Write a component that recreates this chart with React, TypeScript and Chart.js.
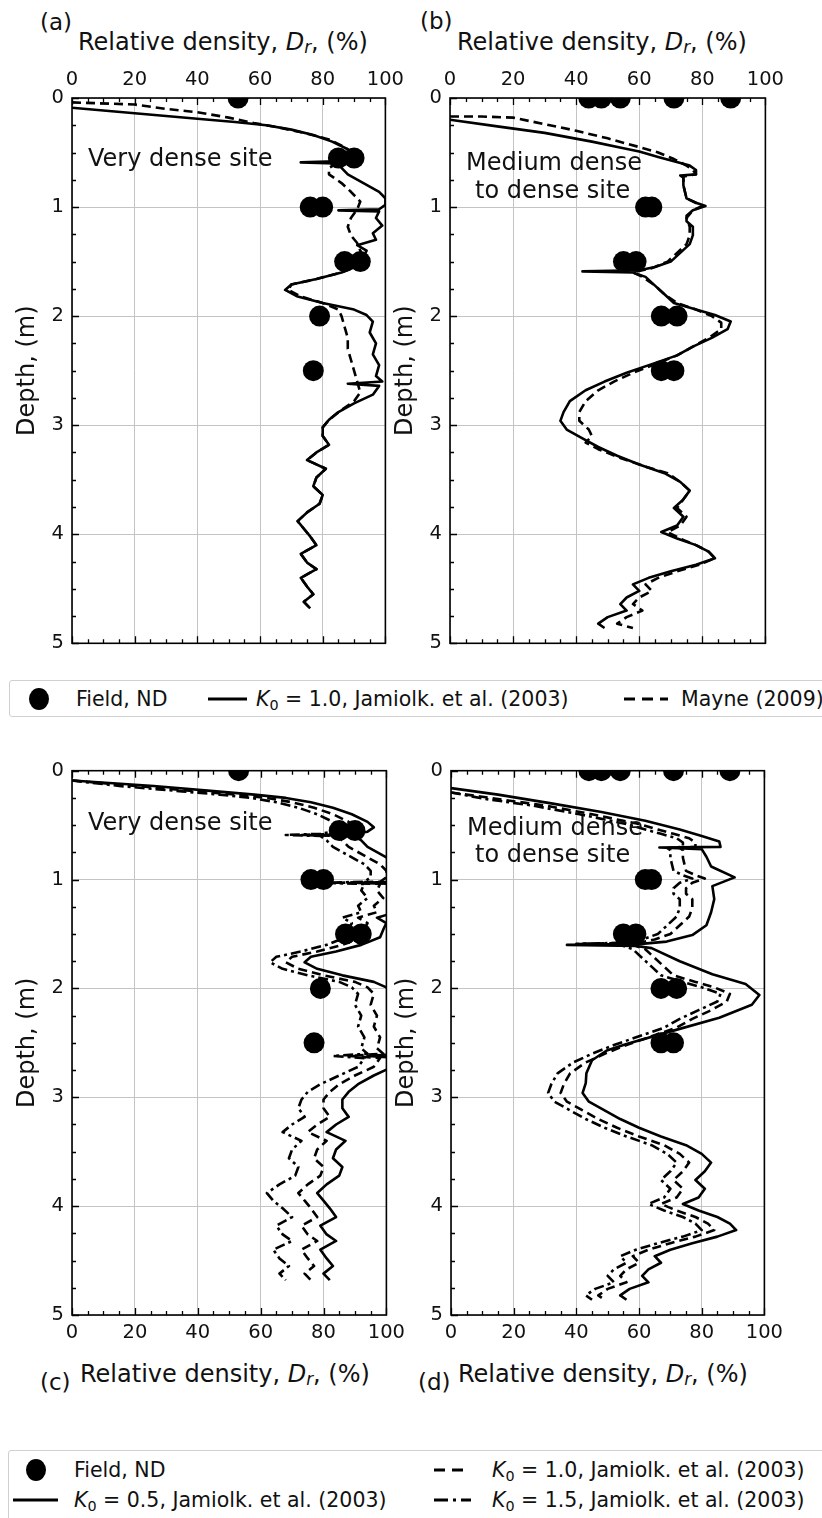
import React, { useEffect, useRef } from "react";
import { Chart, registerables } from "chart.js";
Chart.register(...registerables);

// ---------- tick labels ----------
const xTickValues = [0, 20, 40, 60, 80, 100];
const yTickValues = [0, 1, 2, 3, 4, 5];

// ---------- field data (ND) ----------
const fieldDenseDepth = [0, 0.55, 0.55, 1.0, 1.0, 1.5, 1.5, 2.0, 2.5];
const fieldDenseDr = [53, 85, 90, 76, 80, 87, 92, 79, 77];
const fieldMedDepth = [0, 0, 0, 0, 0, 1.0, 1.0, 1.5, 1.5, 2.0, 2.0, 2.5, 2.5];
const fieldMedDr = [44, 48, 54, 71, 89, 62, 64, 55, 59, 67, 72, 67, 71];

// ---------- very dense site ----------
const depthDense = [0.09,0.14,0.19,0.22,0.25, 0.29,0.34,0.40,0.47,0.52, 0.56,0.58,0.59,0.60,0.64, 0.70,0.78,0.86,0.92,0.98, 1.02,1.03,1.04,1.10,1.17, 1.24,1.30,1.35,1.40,1.46, 1.53,1.60,1.66,1.71,1.76, 1.82,1.88,1.94,1.99,2.05, 2.15,2.25,2.35,2.45,2.55, 2.60,2.62,2.64,2.72,2.80, 2.88,2.95,3.02,3.10,3.18, 3.25,3.32,3.40,3.48,3.56, 3.64,3.72,3.80,3.88,3.95, 4.02,4.10,4.18,4.26,4.32, 4.40,4.48,4.55,4.62,4.68];
const drDenseK10 = [0,20,40,52,62, 70,77,83,88,90, 88,84,73,84,86, 88,93,98,100,100, 98,85,98,97,99, 96,97,91,94,93, 92,86,78,70,68, 72,80,90,94,96, 95,97,96,98,97, 99,88,98,96,90, 85,82,80,80,82, 78,75,81,78,77, 80,79,75,72,74, 76,78,73,75,78, 73,75,77,74,76];
const drDenseK05 = [0,26,46,58,68, 76,83,89,94,96, 94,90,79,90,92, 94,99,104,106,106, 104,91,104,103,105, 102,103,97,100,99, 98,92,84,76,74, 78,86,96,100,102, 101,103,102,104,103, 105,94,104,102,96, 91,88,86,86,88, 84,81,87,84,83, 86,85,81,78,80, 82,84,79,81,84, 79,81,83,80,82];
const drDenseK15 = [0,15,35,47,57, 65,72,78,83,85, 83,79,68,79,81, 83,88,93,95,95, 93,80,93,92,94, 91,92,86,89,88, 87,81,73,65,63, 67,75,85,89,91, 90,92,91,93,92, 94,83,93,91,85, 79,75,73,72,74, 70,67,73,70,69, 72,71,66,62,64, 67,70,65,67,70, 64,66,69,66,68];
const depthDenseMayne = [0.04,0.06,0.10,0.13,0.18, 0.23,0.27,0.32,0.38,0.45, 0.52,0.58,0.64,0.70,0.78, 0.86,0.95,1.02,1.10,1.18, 1.26,1.33,1.40,1.46,1.53, 1.60,1.66,1.71,1.76,1.82, 1.88,1.94,2.00,2.10,2.20, 2.30,2.40,2.50,2.60,2.70, 2.78,2.86,2.95,3.02,3.10, 3.18,3.25,3.32,3.40,3.48, 3.56,3.64,3.72,3.80,3.88, 3.95,4.02,4.10,4.18,4.26, 4.32,4.40,4.48,4.55,4.62, 4.68];
const drDenseMayne = [0,20,30,40,50, 58,66,74,82,87, 90,86,82,82,86, 89,92,91,89,88, 89,91,92,93,92, 86,78,70,69,73, 80,85,86,87,88, 88,89,90,91,92, 90,86,82,80,80, 82,78,75,81,78, 77,80,79,75,72, 74,76,78,73,75, 78,73,75,77,74, 76];

// ---------- medium dense to dense site ----------
const depthMed = [0.20,0.26,0.32,0.40,0.46, 0.49,0.54,0.58,0.62,0.66, 0.70,0.71,0.73,0.80,0.92, 0.96,0.99,1.03,1.08,1.13, 1.18,1.26,1.34,1.42,1.50, 1.55,1.58,1.59,1.60,1.64, 1.72,1.80,1.88,1.94,1.99, 2.05,2.12,2.20,2.28,2.36, 2.44,2.52,2.60,2.68,2.78, 2.88,2.96,3.04,3.12,3.20, 3.28,3.36,3.44,3.52,3.60, 3.68,3.76,3.84,3.92,3.98, 4.04,4.10,4.16,4.22,4.28, 4.34,4.40,4.46,4.52,4.58, 4.64,4.70,4.76,4.82,4.86];
const drMedK10 = [0,15,30,45,55, 60,66,71,76,78, 78,73,74,74,75, 78,81,77,75,75, 77,77,76,73,70, 65,60,42,58,62, 65,68,71,78,84, 89,88,83,77,72, 64,56,49,43,38, 36,35,37,42,47, 53,60,68,73,76, 74,71,74,72,67, 72,78,82,84,78, 70,63,58,60,56, 54,56,50,47,49];
const drMedK15 = [0,11,26,41,51, 56,62,67,72,74, 74,69,70,70,71, 74,77,73,71,71, 73,73,72,69,66, 61,56,40,54,58, 61,64,67,74,80, 86,85,79,73,68, 60,52,45,39,34, 32,31,33,38,43, 49,56,64,69,72, 70,67,70,68,63, 68,74,78,80,74, 66,59,54,56,52, 50,52,46,43,45];
const depthMedK05 = [0.16,0.22,0.30,0.38,0.46, 0.54,0.60,0.65,0.70,0.705, 0.72,0.79,0.88,0.98,1.06, 1.18,1.30,1.42,1.51,1.57, 1.595,1.60,1.61,1.63,1.75, 1.87,1.96,2.06,2.15,2.27, 2.39,2.51,2.57,2.66,2.78, 2.87,2.96,3.04,3.12,3.20, 3.28,3.36,3.44,3.52,3.60, 3.68,3.76,3.84,3.92,3.98, 4.04,4.10,4.16,4.22,4.28, 4.34,4.40,4.46,4.52,4.58, 4.64,4.70,4.76,4.82,4.86];
const drMedK05 = [0,15,32,48,62, 73,80,85.6,86,66.5, 80,81.5,83,90.5,83.4, 84,83,81.5,77,68.8, 59,37,59,64,73, 83.4,94,98.4,96,85.6, 70.7,56,49.7,45,43.2, 43,42,44,49,54, 60,67,75,80,83, 81,78,81,79,74, 79,85,89,91,85, 77,70,65,67,63, 61,63,57,54,56];
const depthMedMayne = [0.17,0.17,0.18,0.24,0.30, 0.37,0.45,0.50,0.56,0.62, 0.66,0.70,0.72,0.80,0.92, 0.99,1.03,1.10,1.18,1.26, 1.34,1.42,1.50,1.56,1.60, 1.64,1.72,1.80,1.88,1.94, 2.00,2.06,2.12,2.20,2.28, 2.36,2.44,2.52,2.60,2.68, 2.78,2.88,2.96,3.04,3.10, 3.16,3.22,3.30,3.38,3.44, 3.52,3.60,3.68,3.76,3.84, 3.92,3.98,4.04,4.10,4.16, 4.22,4.28,4.34,4.40,4.46, 4.52,4.58,4.64,4.70,4.76, 4.82,4.86];
const drMedMayne = [0,10,20,30,40, 50,60,66,71,75, 77,78,74,74,75, 80,77,75,76,76, 75,72,69,64,58, 61,65,68,72,78, 83,86,86,82,77, 72,65,58,52,47, 43,41,41,44,45, 43,47,54,62,69, 73,76,74,72,75, 73,69,73,78,82, 84,79,72,66,62, 64,60,58,61,56, 53,58];

const SOLID: number[] = [];
const DASHED = [9, 5];
const DASHDOT = [10, 4, 3, 4];

type Line = { depth: number[]; dr: number[]; dash: number[] };

const FONT = "'DejaVu Sans', sans-serif";

function zip(xs: number[], ys: number[]) {
  return xs.map((x, i) => ({ x, y: ys[i] }));
}

const framePlugin = {
  id: "frameTicks",
  afterDraw(chart: any) {
    const { ctx, chartArea } = chart;
    const { left, right, top, bottom } = chartArea;
    const xs = chart.scales.x;
    const ys = chart.scales.y;
    ctx.save();
    ctx.strokeStyle = "#000";
    ctx.lineWidth = 1.3;
    ctx.beginPath();
    for (let v = 0; v <= 100; v += 5) {
      const px = Math.round(xs.getPixelForValue(v)) + 0.5;
      const len = v % 20 === 0 ? 7 : 4;
      ctx.moveTo(px, top);
      ctx.lineTo(px, top + len);
      ctx.moveTo(px, bottom);
      ctx.lineTo(px, bottom - len);
    }
    for (let i = 0; i <= 20; i++) {
      const d = i * 0.25;
      const py = Math.round(ys.getPixelForValue(d)) + 0.5;
      const len = i % 4 === 0 ? 7 : 4;
      ctx.moveTo(left, py);
      ctx.lineTo(left + len, py);
    }
    ctx.stroke();
    ctx.lineWidth = 1.6;
    ctx.strokeRect(left, top, right - left, bottom - top);
    ctx.restore();
  },
};

type PanelProps = {
  left: number;
  top: number;
  width: number;
  height: number;
  xPos: "top" | "bottom";
  padTop: number;
  padBottom: number;
  lines: Line[];
  fDepth: number[];
  fDr: number[];
};

function Panel(p: PanelProps) {
  const ref = useRef<HTMLCanvasElement>(null);
  useEffect(() => {
    const datasets: any[] = p.lines.map((l) => ({
      data: zip(l.dr, l.depth),
      showLine: true,
      borderColor: "#000",
      borderWidth: 2.6,
      borderDash: l.dash,
      pointRadius: 0,
      tension: 0,
      clip: 0,
      borderJoinStyle: "round",
    }));
    datasets.push({
      data: zip(p.fDr, p.fDepth),
      showLine: false,
      pointRadius: 10.5,
      pointBackgroundColor: "#000",
      pointBorderWidth: 0,
      clip: 0,
    });
    const chart = new Chart(ref.current!, {
      type: "scatter",
      data: { datasets },
      options: {
        animation: false,
        responsive: false,
        maintainAspectRatio: false,
        layout: { padding: { top: p.padTop, bottom: p.padBottom, left: 0, right: 24 } },
        plugins: { legend: { display: false }, tooltip: { enabled: false } },
        scales: {
          x: {
            type: "linear",
            position: p.xPos,
            min: 0,
            max: 100,
            afterBuildTicks: (s: any) => {
              s.ticks = xTickValues.map((v) => ({ value: v }));
            },
            ticks: { padding: 6, font: { family: FONT, size: 19.5 }, color: "#111", maxRotation: 0, autoSkip: false },
            grid: { color: "#c4c4c4", lineWidth: 1, drawTicks: false },
            border: { display: false },
            afterFit: (s: any) => {
              s.height = p.xPos === "top" ? 38 : 40;
            },
          },
          y: {
            type: "linear",
            position: "left",
            min: 0,
            max: 5,
            reverse: true,
            afterBuildTicks: (s: any) => {
              s.ticks = yTickValues.map((v) => ({ value: v }));
            },
            ticks: { padding: 8, font: { family: FONT, size: 19.5 }, color: "#111", autoSkip: false },
            grid: { color: "#c4c4c4", lineWidth: 1, drawTicks: false },
            border: { display: false },
            title: {
              display: true,
              text: "Depth, (m)",
              font: { family: FONT, size: 24 },
              color: "#111",
              padding: { top: 2, bottom: 0 },
            },
            afterFit: (s: any) => {
              s.width = 61;
            },
          },
        },
      },
      plugins: [framePlugin],
    } as any);
    return () => chart.destroy();
  }, []);
  return (
    <canvas
      ref={ref}
      width={p.width}
      height={p.height}
      style={{ position: "absolute", left: p.left, top: p.top, width: p.width, height: p.height }}
    />
  );
}

function Txt(props: { x: number; base: number; size: number; children: any }) {
  return (
    <div
      style={{
        position: "absolute",
        left: props.x,
        top: props.base - 0.846 * props.size,
        fontSize: props.size,
        lineHeight: `${props.size}px`,
        fontFamily: FONT,
        whiteSpace: "nowrap",
        color: "#111",
      }}
    >
      {props.children}
    </div>
  );
}

function XTitle(props: { x: number; base: number }) {
  return (
    <Txt x={props.x} base={props.base} size={24}>
      Relative density, <i>D</i>
      <sub style={{ fontSize: "0.7em", verticalAlign: "-0.2em", fontStyle: "italic" }}>r</sub>, (%)
    </Txt>
  );
}

function K0(props: { v: string }) {
  return (
    <span>
      <i>K</i>
      <sub style={{ fontSize: "0.7em", verticalAlign: "-0.25em" }}>0</sub> = {props.v}, Jamiolk. et al. (2003)
    </span>
  );
}

function LegText(props: { x: number; cy: number; children: any }) {
  return (
    <div
      style={{
        position: "absolute",
        left: props.x,
        top: props.cy - 12,
        height: 24,
        lineHeight: "24px",
        fontSize: 20.5,
        fontFamily: FONT,
        whiteSpace: "nowrap",
        color: "#111",
      }}
    >
      {props.children}
    </div>
  );
}

function LegLine(props: { x1: number; x2: number; cy: number; dash: string }) {
  const w = props.x2 - props.x1;
  return (
    <svg style={{ position: "absolute", left: props.x1, top: props.cy - 4 }} width={w} height={8}>
      <line x1={0} y1={4} x2={w} y2={4} stroke="#000" strokeWidth={3} strokeDasharray={props.dash} />
    </svg>
  );
}

function LegDot(props: { cx: number; cy: number }) {
  return (
    <div
      style={{
        position: "absolute",
        left: props.cx - 10,
        top: props.cy - 11,
        width: 20,
        height: 22,
        borderRadius: "50%",
        background: "#000",
      }}
    />
  );
}

export default function App() {
  useEffect(() => {
    document.body.style.margin = "0";
  }, []);
  return (
    <div
      style={{
        position: "absolute",
        left: 0,
        top: 0,
        width: 822,
        height: 1518,
        overflow: "hidden",
        background: "#fff",
      }}
    >
      <Panel
        left={11}
        top={60}
        width={399}
        height={603}
        xPos="top"
        padTop={0}
        padBottom={12}
        lines={[
          { depth: depthDense, dr: drDenseK10, dash: SOLID },
          { depth: depthDenseMayne, dr: drDenseMayne, dash: DASHED },
        ]}
        fDepth={fieldDenseDepth}
        fDr={fieldDenseDr}
      />
      <Panel
        left={389}
        top={60}
        width={401}
        height={603}
        xPos="top"
        padTop={0}
        padBottom={12}
        lines={[
          { depth: depthMed, dr: drMedK10, dash: SOLID },
          { depth: depthMedMayne, dr: drMedMayne, dash: DASHED },
        ]}
        fDepth={fieldMedDepth}
        fDr={fieldMedDr}
      />
      <Panel
        left={11}
        top={751}
        width={400}
        height={604}
        xPos="bottom"
        padTop={12}
        padBottom={0}
        lines={[
          { depth: depthDense, dr: drDenseK05, dash: SOLID },
          { depth: depthDense, dr: drDenseK10, dash: DASHED },
          { depth: depthDense, dr: drDenseK15, dash: DASHDOT },
        ]}
        fDepth={fieldDenseDepth}
        fDr={fieldDenseDr}
      />
      <Panel
        left={390}
        top={751}
        width={399}
        height={604}
        xPos="bottom"
        padTop={12}
        padBottom={0}
        lines={[
          { depth: depthMedK05, dr: drMedK05, dash: SOLID },
          { depth: depthMed, dr: drMedK10, dash: DASHED },
          { depth: depthMed, dr: drMedK15, dash: DASHDOT },
        ]}
        fDepth={fieldMedDepth}
        fDr={fieldMedDr}
      />

      {/* panel letters and x titles */}
      <Txt x={40} base={30} size={23}>(a)</Txt>
      <XTitle x={78} base={50} />
      <Txt x={420} base={29} size={23}>(b)</Txt>
      <XTitle x={457} base={50} />
      <Txt x={40} base={1390} size={23}>(c)</Txt>
      <XTitle x={80} base={1382} />
      <Txt x={418} base={1390} size={23}>(d)</Txt>
      <XTitle x={458} base={1382} />

      {/* annotations */}
      <Txt x={88} base={166} size={24}>Very dense site</Txt>
      <Txt x={466} base={170} size={24}>Medium dense</Txt>
      <Txt x={475} base={198} size={24}>to dense site</Txt>
      <Txt x={88} base={830} size={24}>Very dense site</Txt>
      <Txt x={467} base={835} size={24}>Medium dense</Txt>
      <Txt x={475} base={862} size={24}>to dense site</Txt>

      {/* legend 1 */}
      <div
        style={{
          position: "absolute",
          left: 9,
          top: 680,
          width: 840,
          height: 37,
          border: "1px solid #d0d0d0",
          borderRadius: 3,
          boxSizing: "border-box",
        }}
      />
      <LegDot cx={39} cy={699} />
      <LegText x={76} cy={699}>Field, ND</LegText>
      <LegLine x1={208} x2={247} cy={699} dash="none" />
      <LegText x={256} cy={699}>
        <K0 v="1.0" />
      </LegText>
      <LegLine x1={624} x2={668} cy={699} dash="11 7" />
      <LegText x={681} cy={699}>Mayne (2009)</LegText>

      {/* legend 2 */}
      <div
        style={{
          position: "absolute",
          left: 8,
          top: 1450,
          width: 840,
          height: 80,
          border: "1px solid #d0d0d0",
          borderRadius: 3,
          boxSizing: "border-box",
        }}
      />
      <LegDot cx={36} cy={1470} />
      <LegText x={74} cy={1470}>Field, ND</LegText>
      <LegLine x1={434} x2={466} cy={1470} dash="11 7" />
      <LegText x={492} cy={1470}>
        <K0 v="1.0" />
      </LegText>
      <LegLine x1={13} x2={58} cy={1500} dash="none" />
      <LegText x={74} cy={1500}>
        <K0 v="0.5" />
      </LegText>
      <LegLine x1={434} x2={471} cy={1500} dash="14 5 3 5" />
      <LegText x={492} cy={1500}>
        <K0 v="1.5" />
      </LegText>
    </div>
  );
}
